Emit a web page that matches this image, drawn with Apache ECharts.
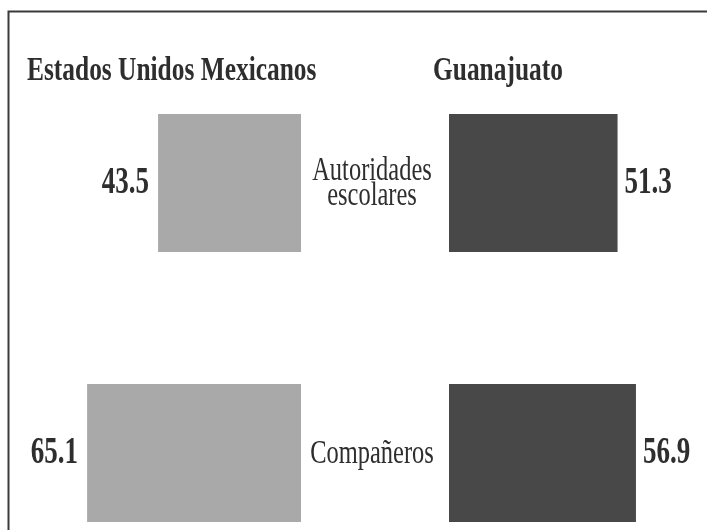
<!DOCTYPE html>
<html>
<head>
<meta charset="utf-8">
<script src="https://cdn.jsdelivr.net/npm/echarts@6/dist/echarts.min.js"></script>
<style>
html,body{margin:0;padding:0;background:#fff;}
#chart{width:707px;height:530px;}
</style>
</head>
<body>
<div id="chart"></div>
<script>
var categories = ['Autoridades\nescolares', 'Compañeros'];
var mexicoValues = [43.5, 65.1];
var guanajuatoValues = [51.3, 56.9];
var panelTitles = ['Estados Unidos Mexicanos', 'Guanajuato'];

var chart = echarts.init(document.getElementById('chart'));
var serifName = '"Liberation Serif", "Times New Roman", serif';
var textColor = '#2e2e2e';
var condense = 0.73;

function valueLabelSeries(values, gridIdx, side) {
  return {
    type: 'custom', xAxisIndex: gridIdx, yAxisIndex: gridIdx, silent: true, z: 5,
    data: values.map(function (v, i) { return [v, i]; }),
    renderItem: function (params, api) {
      var v = api.value(0);
      var p = api.coord([v, api.value(1)]);
      return {
        type: 'text',
        x: p[0] + (side === 'left' ? -9 : 7), y: p[1],
        scaleX: condense, scaleY: 1,
        style: {
          text: v.toFixed(1), fill: textColor,
          font: 'bold 37px ' + serifName,
          align: side === 'left' ? 'right' : 'left', verticalAlign: 'middle'
        }
      };
    }
  };
}

var option = {
  backgroundColor: '#ffffff',
  animation: false,
  graphic: [
    { type: 'rect', left: 6, top: 9, shape: { x: 0, y: 0, width: 760, height: 600 },
      style: { fill: 'none', stroke: '#3a3a3a', lineWidth: 2 }, silent: true, z: 100 },
    { type: 'text', x: 27, y: 71, scaleX: 0.77, scaleY: 1, silent: true,
      style: { text: panelTitles[0], fill: textColor, font: 'bold 33px ' + serifName,
        align: 'left', verticalAlign: 'middle' } },
    { type: 'text', x: 433, y: 71, scaleX: 0.77, scaleY: 1, silent: true,
      style: { text: panelTitles[1], fill: textColor, font: 'bold 33px ' + serifName,
        align: 'left', verticalAlign: 'middle' } }
  ],
  grid: [
    { left: 71, width: 230, top: 183, height: 270 },
    { left: 449, width: 230, top: 183, height: 270 }
  ],
  xAxis: [
    { type: 'value', gridIndex: 0, min: 0, max: 70, inverse: true, show: false },
    { type: 'value', gridIndex: 1, min: 0, max: 70, show: false }
  ],
  yAxis: [
    { type: 'category', gridIndex: 0, data: categories, inverse: true, boundaryGap: false,
      axisLine: { show: false }, axisTick: { show: false }, axisLabel: { show: false },
      splitLine: { show: false } },
    { type: 'category', gridIndex: 1, data: categories, inverse: true, boundaryGap: false,
      axisLine: { show: false }, axisTick: { show: false }, splitLine: { show: false },
      axisLabel: { show: false } }
  ],
  series: [
    { type: 'bar', xAxisIndex: 0, yAxisIndex: 0, data: mexicoValues, barWidth: 138, clip: false,
      itemStyle: { color: '#a9a9a9' } },
    { type: 'bar', xAxisIndex: 1, yAxisIndex: 1, data: guanajuatoValues, barWidth: 138, clip: false,
      itemStyle: { color: '#484848' } },
    valueLabelSeries(mexicoValues, 0, 'left'),
    valueLabelSeries(guanajuatoValues, 1, 'right'),
    {
      type: 'custom', xAxisIndex: 1, yAxisIndex: 1, silent: true, z: 5,
      data: categories.map(function (c, i) { return [0, i]; }),
      renderItem: function (params, api) {
        var idx = api.value(1);
        var p = api.coord([0, idx]);
        return {
          type: 'text', x: p[0] - 77, y: p[1] + 1, scaleX: 0.72, scaleY: 1,
          style: {
            text: categories[idx], fill: textColor,
            font: '34px ' + serifName, lineHeight: 25,
            align: 'center', verticalAlign: 'middle'
          }
        };
      }
    }
  ]
};
chart.setOption(option);
</script>
</body>
</html>
